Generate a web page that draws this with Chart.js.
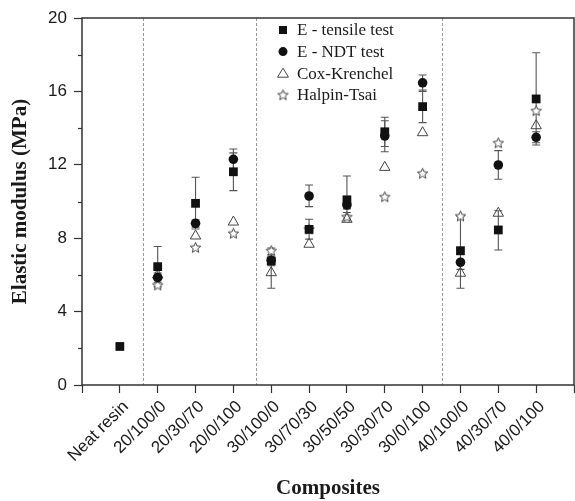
<!DOCTYPE html>
<html lang="en">
<head>
<meta charset="UTF-8">
<title>Elastic modulus of composites</title>
<script src="https://cdn.jsdelivr.net/npm/chart.js@4"></script>
<style>
    html, body { margin: 0; padding: 0; background: #fff; }
    #wrap { width: 575px; height: 501px; }
</style>
</head>
<body>
<div id="wrap"><canvas id="chart" width="575" height="501"></canvas></div>
<script>
// data
const categories = ['Neat resin', '20/100/0', '20/30/70', '20/0/100', '30/100/0', '30/70/30',
    '30/50/50', '30/30/70', '30/0/100', '40/100/0', '40/30/70', '40/0/100'];

const tensile     = [2.1, 6.45, 9.9, 11.62, 6.76, 8.48, 10.08, 13.8, 15.17, 7.32, 8.45, 15.59];
const tensileLow  = [null, 5.35, 8.5, 10.59, 5.27, 7.95, 9.6, 12.71, 14.3, 5.27, 7.36, 13.08];
const tensileHigh = [null, 7.55, 11.32, 12.65, 7.47, 9.03, 11.39, 14.59, 16.08, 9.2, 9.5, 18.11];

const ndt     = [null, 5.85, 8.81, 12.3, 6.8, 10.3, 9.81, 13.57, 16.47, 6.69, 11.99, 13.5];
const ndtLow  = [null, 5.6, 8.6, 11.8, 6.5, 9.72, 9.4, 13.0, 16.0, 6.3, 11.21, 13.2];
const ndtHigh = [null, 6.1, 9.0, 12.86, 7.1, 10.9, 10.3, 14.4, 16.89, 7.1, 12.77, 13.8];

const coxKrenchel = [null, 6.0, 8.12, 8.88, 6.12, 7.67, 9.03, 11.86, 13.75, 6.09, 9.36, 14.13];
const halpinTsai  = [null, 5.45, 7.5, 8.27, 7.32, 8.5, 9.17, 10.26, 11.54, 9.21, 13.2, 14.95];

const yTicks = [0, 4, 8, 12, 16, 20];
const groupDividers = [0.6, 3.6, 8.5];
const seriesNames = ['E - tensile test', 'E - NDT test', 'Cox-Krenchel', 'Halpin-Tsai'];

function points(arr) {
    return arr.map((v, i) => ({ x: i, y: v })).filter(p => p.y !== null);
}

// open five-pointed star marker
function makeStar(size) {
    const c = document.createElement('canvas');
    c.width = size; c.height = size;
    const g = c.getContext('2d');
    const cx = size / 2, cy = size / 2 + 0.5, ro = size / 2 - 1, ri = ro * 0.45;
    g.beginPath();
    for (let k = 0; k < 10; k++) {
        const r = k % 2 === 0 ? ro : ri;
        const a = -Math.PI / 2 + k * Math.PI / 5;
        const px = cx + r * Math.cos(a), py = cy + r * Math.sin(a);
        if (k === 0) g.moveTo(px, py); else g.lineTo(px, py);
    }
    g.closePath();
    g.fillStyle = '#fff';
    g.fill();
    g.strokeStyle = '#444';
    g.lineWidth = 1;
    g.stroke();
    return c;
}
const starImg = makeStar(13);

const overlay = {
    id: 'overlay',
    beforeDatasetsDraw(chart) {
        const ctx = chart.ctx, a = chart.chartArea;
        const xs = chart.scales.x, ys = chart.scales.y;
        ctx.save();
        // dashed group dividers
        ctx.strokeStyle = '#999';
        ctx.lineWidth = 1;
        ctx.setLineDash([3, 2]);
        groupDividers.forEach(d => {
            const px = Math.round(xs.getPixelForValue(d)) + 0.5;
            ctx.beginPath();
            ctx.moveTo(px, a.top);
            ctx.lineTo(px, a.bottom);
            ctx.stroke();
        });
        ctx.setLineDash([]);
        // error bars
        ctx.strokeStyle = '#555';
        ctx.lineWidth = 1.1;
        [[tensileLow, tensileHigh], [ndtLow, ndtHigh]].forEach(([lo, hi]) => {
            lo.forEach((l, i) => {
                if (l === null) return;
                const px = xs.getPixelForValue(i);
                const y1 = ys.getPixelForValue(l), y2 = ys.getPixelForValue(hi[i]);
                ctx.beginPath();
                ctx.moveTo(px, y1); ctx.lineTo(px, y2);
                ctx.moveTo(px - 4, y1); ctx.lineTo(px + 4, y1);
                ctx.moveTo(px - 4, y2); ctx.lineTo(px + 4, y2);
                ctx.stroke();
            });
        });
        ctx.restore();
    },
    afterDraw(chart) {
        const ctx = chart.ctx, a = chart.chartArea;
        const xs = chart.scales.x, ys = chart.scales.y;
        ctx.save();
        // frame
        ctx.strokeStyle = '#333';
        ctx.lineWidth = 1.5;
        ctx.strokeRect(a.left, a.top, a.right - a.left, a.bottom - a.top);
        // minor y ticks
        ctx.lineWidth = 1.2;
        for (let v = 2; v < 20; v += 4) {
            const py = Math.round(ys.getPixelForValue(v)) + 0.5;
            ctx.beginPath();
            ctx.moveTo(a.left - 4, py);
            ctx.lineTo(a.left, py);
            ctx.stroke();
        }
        // rotated category labels
        ctx.fillStyle = '#1a1a1a';
        ctx.font = '17px "Liberation Sans", Arial, sans-serif';
        ctx.textAlign = 'right';
        ctx.textBaseline = 'middle';
        categories.forEach((c, i) => {
            ctx.save();
            ctx.translate(xs.getPixelForValue(i) + 6, a.bottom + 19);
            ctx.rotate(-Math.PI / 4);
            ctx.fillText(c, 0, 0);
            ctx.restore();
        });
        // legend
        const lx = 283, ly0 = 30, step = 21.6;
        ctx.font = '17px "Liberation Serif", "Times New Roman", serif';
        ctx.textAlign = 'left';
        seriesNames.forEach((name, k) => {
            const y = ly0 + k * step;
            ctx.fillStyle = '#111';
            ctx.strokeStyle = '#444';
            ctx.lineWidth = 1;
            if (k === 0) {
                ctx.fillRect(lx - 4, y - 4, 8, 8);
            } else if (k === 1) {
                ctx.beginPath(); ctx.arc(lx, y, 4.5, 0, Math.PI * 2); ctx.fill();
            } else if (k === 2) {
                ctx.beginPath();
                ctx.moveTo(lx, y - 5); ctx.lineTo(lx + 5.5, y + 4); ctx.lineTo(lx - 5.5, y + 4);
                ctx.closePath(); ctx.stroke();
            } else {
                ctx.drawImage(starImg, lx - 6.5, y - 6.5);
            }
            ctx.fillStyle = '#1a1a1a';
            ctx.fillText(name, lx + 14, y + 1);
        });
        // axis titles
        ctx.fillStyle = '#1a1a1a';
        ctx.font = 'bold 21px "Liberation Serif", "Times New Roman", serif';
        ctx.textAlign = 'center';
        ctx.fillText('Composites', (a.left + a.right) / 2, 489);
        ctx.translate(21, (a.top + a.bottom) / 2);
        ctx.rotate(-Math.PI / 2);
        ctx.fillText('Elastic modulus (MPa)', 0, 0);
        ctx.restore();
    }
};

const tickFont = { family: '"Liberation Sans", Arial, sans-serif', size: 17 };

new Chart(document.getElementById('chart'), {
    type: 'scatter',
    data: {
        datasets: [
            { label: seriesNames[0], data: points(tensile), pointStyle: 'rect', pointRadius: 6.2,
              backgroundColor: '#111', borderColor: '#111', borderWidth: 0 },
            { label: seriesNames[1], data: points(ndt), pointStyle: 'circle', pointRadius: 4.8,
              backgroundColor: '#111', borderColor: '#111', borderWidth: 0 },
            { label: seriesNames[2], data: points(coxKrenchel), pointStyle: 'triangle', pointRadius: 6,
              backgroundColor: 'rgba(255,255,255,0)', borderColor: '#444', borderWidth: 1 },
            { label: seriesNames[3], data: points(halpinTsai), pointStyle: starImg, pointRadius: 6,
              backgroundColor: '#fff', borderColor: '#444', borderWidth: 1 }
        ]
    },
    options: {
        responsive: false,
        animation: false,
        layout: { autoPadding: false, padding: { top: 18, right: 1, left: 0, bottom: 0 } },
        plugins: { legend: { display: false }, tooltip: { enabled: false } },
        scales: {
            x: {
                type: 'linear',
                min: -1,
                max: 12,
                afterBuildTicks: s => { s.ticks = []; for (let i = -1; i <= 12; i++) s.ticks.push({ value: i }); },
                afterFit: s => { s.height = 116; s.paddingLeft = 0; s.paddingRight = 0; },
                border: { display: false },
                grid: { drawOnChartArea: false, drawTicks: true, tickLength: 8, tickColor: '#333', tickWidth: 1.2 },
                ticks: { autoSkip: false, maxRotation: 0, font: tickFont, callback: () => '' }
            },
            y: {
                min: 0,
                max: 20,
                afterBuildTicks: s => { s.ticks = yTicks.map(v => ({ value: v })); },
                afterFit: s => { s.width = 82; s.paddingTop = 0; s.paddingBottom = 0; },
                border: { display: false },
                grid: { drawOnChartArea: false, drawTicks: true, tickLength: 8, tickColor: '#333', tickWidth: 1.2 },
                ticks: { padding: 7, color: '#1a1a1a', font: tickFont }
            }
        }
    },
    plugins: [overlay]
});
</script>
</body>
</html>
